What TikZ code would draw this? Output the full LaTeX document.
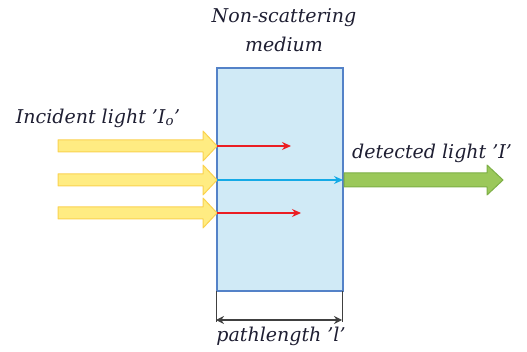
\documentclass[tikz,border=0pt]{standalone}
\usepackage{fontspec}
\setmainfont{DejaVu Serif}
\usetikzlibrary{arrows.meta}
\definecolor{mediumfill}{RGB}{208,234,246}
\definecolor{mediumedge}{RGB}{84,130,200}
\definecolor{beamfill}{RGB}{255,236,130}
\definecolor{beamedge}{RGB}{250,210,80}
\definecolor{outfill}{RGB}{155,200,90}
\definecolor{outedge}{RGB}{125,175,70}
\definecolor{raycol}{RGB}{235,30,35}
\definecolor{raycenter}{RGB}{20,170,230}
\definecolor{labelcol}{RGB}{30,30,50}
\tikzset{
  lbl/.style={font=\itshape\fontsize{19}{22}\selectfont, text=labelcol, inner sep=0pt},
  beam/.style={fill=beamfill, draw=beamedge, line width=1pt, line join=round},
  outbeam/.style={fill=outfill, draw=outedge, line width=1pt, line join=round},
  ray/.style={line width=1.2pt, -{Stealth[length=9pt,width=8pt]}},
}
\begin{document}
\begin{tikzpicture}[x=1pt,y=-1pt]
\useasboundingbox (0,0) rectangle (527,352);
% the medium
\node[draw=mediumedge, line width=2pt, fill=mediumfill, minimum width=126pt, minimum height=223pt, anchor=north west, inner sep=0pt] (med) at (216,67) {};
% incident beams
\foreach \yy/\nm in {146/a,180/b,213/c}{
  \draw[beam] (58,\yy-6) -- (203,\yy-6) -- (203,\yy-15) -- (217,\yy) -- (203,\yy+15) -- (203,\yy+6) -- (58,\yy+6) -- cycle;
  \coordinate (in\nm) at (217,\yy);
}
% rays inside the medium
\coordinate (ea) at (291,146);
\coordinate (ec) at (301,213);
\coordinate (eb) at (343,180);
\draw[ray, raycol] (ina) -- (ea);
\draw[ray, raycol] (inc) -- (ec);
\draw[ray, raycenter] (inb) -- (eb);
% transmitted beam
\draw[outbeam] (344,173) -- (487,173) -- (487,165) -- (503,180) -- (487,195) -- (487,187) -- (344,187) -- cycle;
% path length
\coordinate (ta) at (216,291);
\coordinate (tb) at (342,291);
\coordinate (da) at (216,320);
\coordinate (db) at (342,320);
\draw[line width=1pt, black!75] (ta) -- (216,322) (tb) -- (342,322);
\draw[line width=1.2pt, black!75, {Stealth[length=8pt,width=8pt]}-{Stealth[length=8pt,width=8pt]}] (da) -- (db);
% labels
\node[lbl] (title1) at (284,18) {Non-scattering};
\node[lbl] (title2) at (284,44) {medium};
\node[lbl] (inlbl) at (98,118) {Incident light 'I\textsubscript{o}'};
\node[lbl] (outlbl) at (432,153) {detected light 'I'};
\node[lbl] (pl) at (281,336) {pathlength 'l'};
\end{tikzpicture}
\end{document}
